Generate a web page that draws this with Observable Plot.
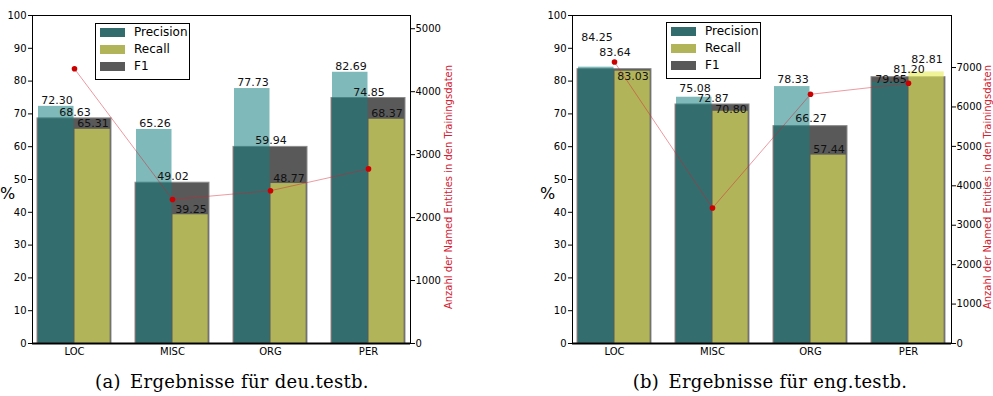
<!DOCTYPE html>
<html>
<head>
<meta charset="utf-8">
<script src="https://cdn.jsdelivr.net/npm/d3@7"></script>
<script src="https://cdn.jsdelivr.net/npm/@observablehq/plot@0.6"></script>
<style>
  html, body { margin: 0; padding: 0; background: #fff; }
  #wrap { position: relative; width: 993px; height: 396px; overflow: hidden; font-family: "DejaVu Sans", sans-serif; }
  .panel { position: absolute; top: 0; }
  .legend { position: absolute; border: 1.3px solid #000; background: #fff; box-sizing: border-box; width: 95px; height: 57px; }
  .legend .row { position: absolute; left: 4px; height: 9px; }
  .legend .sw { position: absolute; left: 0; top: 0; width: 25px; height: 9px; }
  .legend .lab { position: absolute; left: 34px; top: -4px; font-size: 12px; line-height: 16px; color: #000; white-space: nowrap; }
  .caption { position: absolute; top: 371px; transform: translateX(-50%); font-family: "DejaVu Serif", serif; font-size: 18px; letter-spacing: 0.3px; line-height: 22px; white-space: nowrap; color: #000; }
</style>
</head>
<body>
<div id="wrap"></div>
<script>
// ---- data ----
const categories = ["LOC", "MISC", "ORG", "PER"];
const seriesNames = ["Precision", "Recall", "F1"];

const deuPrecision = [72.30, 65.26, 77.73, 82.69];
const deuRecall    = [65.31, 39.25, 48.77, 68.37];
const deuF1        = [68.63, 49.02, 59.94, 74.85];
const deuCounts    = [4363, 2288, 2427, 2773];

const engPrecision = [84.25, 75.08, 78.33, 79.65];
const engRecall    = [83.03, 70.80, 57.44, 82.81];
const engF1        = [83.64, 72.87, 66.27, 81.20];
const engCounts    = [7140, 3438, 6321, 6600];

const leftTicks  = [0, 10, 20, 30, 40, 50, 60, 70, 80, 90, 100];
const deuCountTicks = [0, 1000, 2000, 3000, 4000, 5000];
const engCountTicks = [0, 1000, 2000, 3000, 4000, 5000, 6000, 7000];
const countLabel = "Anzahl der Named Entities in den Trainingsdaten";
const captions = ["(a)\u2002Ergebnisse für deu.testb.", "(b)\u2002Ergebnisse für eng.testb."];

// ---- style / layout config ----
const colors = {
  precision: "rgb(19,126,126)", precisionOpacity: 0.54,
  recall: "rgb(233,236,91)", recallOpacity: 0.62,
  f1: "#595959", f1Edge: "#8c8c8c",
  red: "#d42030", dot: "#cc0000"
};
const legendSwatches = ["#336c6c", "#b2b45a", "#595959"];
// vertical label offsets above bar top (px), per panel
const deuOffsets = { p: [6, 6, 6, 6], f: [6, 6, 6, 6], r: [5.5, 5.5, 5.5, 5.5] };
const engOffsets = { p: [29.7, 8.4, 6.8, 3], f: [16.4, 5.7, 7.6, 7.7], r: [-5.3, 2.1, 5.3, 12.1] };

const H = 360, MT = 15, MB = 17;
const pxPerUnit = (H - MT - MB) / 100;

function panel({precision, recall, f1, counts, rightMax, countTicks, width, ml, mr, offsets, labelDx}) {
  const rows = categories.map((c, i) => ({
    cat: c, i, p: precision[i], r: recall[i], f: f1[i], n: counts[i],
    ns: counts[i] / rightMax * 100
  }));
  const fmt = v => v.toFixed(2);
  return Plot.plot({
    width, height: H, marginTop: MT, marginBottom: MB, marginLeft: ml, marginRight: mr,
    style: { fontFamily: "DejaVu Sans", fontSize: "10px", color: "#000", background: "transparent", overflow: "visible" },
    x: { domain: categories, paddingInner: 0.24, paddingOuter: 0.035 },
    y: { domain: [0, 100] },
    marks: [
      Plot.barY(rows, { x: "cat", y: "f", fill: colors.f1, stroke: colors.f1Edge, strokeWidth: 1 }),
      Plot.barY(rows, { x: "cat", y: "p", fill: colors.precision, fillOpacity: colors.precisionOpacity, insetLeft: 1, insetRight: 37.5 }),
      Plot.barY(rows, { x: "cat", y: "r", fill: colors.recall, fillOpacity: colors.recallOpacity, insetLeft: 37.5, insetRight: 1.3 }),
      Plot.text(rows, { x: "cat", y: d => d.p + offsets.p[d.i] / pxPerUnit, text: d => fmt(d.p), dx: -17.5, fontSize: 11, fill: "#111", lineAnchor: "middle" }),
      Plot.text(rows, { x: "cat", y: d => d.f + offsets.f[d.i] / pxPerUnit, text: d => fmt(d.f), dx: 0.5, fontSize: 11, fill: "#111", lineAnchor: "middle" }),
      Plot.text(rows, { x: "cat", y: d => d.r + offsets.r[d.i] / pxPerUnit, text: d => fmt(d.r), dx: 18.5, fontSize: 11, fill: "#111", lineAnchor: "middle" }),
      Plot.line(rows, { x: "cat", y: "ns", stroke: colors.red, strokeOpacity: 0.45, strokeWidth: 1 }),
      Plot.dot(rows, { x: "cat", y: "ns", r: 2.8, fill: colors.dot, stroke: "none" }),
      Plot.frame({ stroke: "#000", strokeWidth: 1 }),
      Plot.ruleY([0], { stroke: "#000", strokeWidth: 2 }),
      Plot.axisY({ ticks: leftTicks, tickSize: 4, tickPadding: 2, label: null, fontSize: 10 }),
      Plot.axisY({
        anchor: "right", ticks: countTicks.map(v => v / rightMax * 100),
        tickFormat: v => String(Math.round(v * rightMax / 100)),
        tickSize: 4, tickPadding: 1, label: null, fontSize: 10
      }),
      Plot.axisX({ tickSize: 0, tickPadding: 4, label: null, fontSize: 10 }),
      Plot.text(["%"], { frameAnchor: "left", textAnchor: "middle", dx: -25, dy: 14, fontSize: 16, fill: "#000" }),
      Plot.text([countLabel], { frameAnchor: "right", textAnchor: "middle", lineAnchor: "middle", rotate: -90, dx: labelDx, dy: 7.5, fontSize: 10, fill: colors.red })
    ]
  });
}

const wrap = document.getElementById("wrap");

function addPanel(svg, left) {
  const d = document.createElement("div");
  d.className = "panel";
  d.style.left = left + "px";
  d.appendChild(svg);
  wrap.appendChild(d);
}

addPanel(panel({
  precision: deuPrecision, recall: deuRecall, f1: deuF1, counts: deuCounts,
  rightMax: 5210, countTicks: deuCountTicks, width: 496, ml: 32, mr: 86, offsets: deuOffsets, labelDx: 38
}), 0);

addPanel(panel({
  precision: engPrecision, recall: engRecall, f1: engF1, counts: engCounts,
  rightMax: 8320, countTicks: engCountTicks, width: 497, ml: 76, mr: 42, offsets: engOffsets, labelDx: 36
}), 496);

function addLegend(left, top) {
  const lg = document.createElement("div");
  lg.className = "legend";
  lg.style.left = left + "px";
  lg.style.top = top + "px";
  seriesNames.forEach((name, i) => {
    const row = document.createElement("div");
    row.className = "row";
    row.style.top = (4 + i * 17) + "px";
    const sw = document.createElement("div");
    sw.className = "sw";
    sw.style.background = legendSwatches[i];
    const lab = document.createElement("div");
    lab.className = "lab";
    lab.textContent = name;
    row.appendChild(sw);
    row.appendChild(lab);
    lg.appendChild(row);
  });
  wrap.appendChild(lg);
}
addLegend(95, 23);
addLegend(666, 22);

function addCaption(text, cx) {
  const c = document.createElement("div");
  c.className = "caption";
  c.style.left = cx + "px";
  c.textContent = text;
  wrap.appendChild(c);
}
addCaption(captions[0], 232);
addCaption(captions[1], 770);
</script>
</body>
</html>
